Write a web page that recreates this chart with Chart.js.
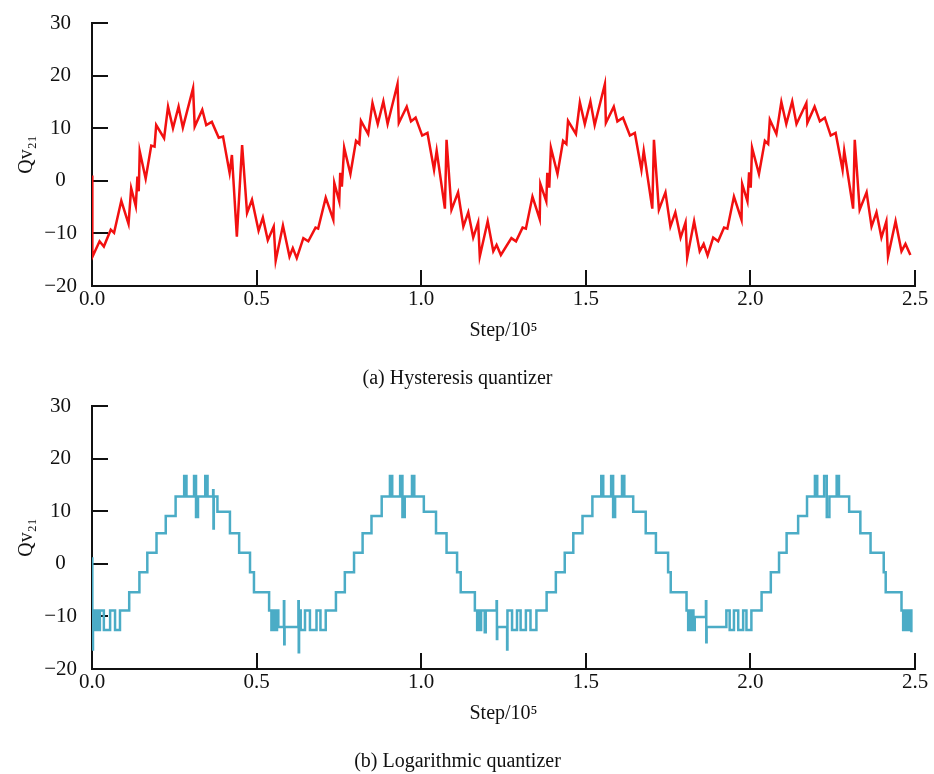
<!DOCTYPE html>
<html>
<head>
<meta charset="utf-8">
<script src="https://cdn.jsdelivr.net/npm/chart.js@4/dist/chart.umd.min.js"></script>
<style>
body{margin:0;background:#fff;}
.panel{position:absolute;left:0;width:934px;height:391px;}
</style>
</head>
<body>
<div class="panel" style="top:0"><canvas id="chartA"></canvas></div>
<div class="panel" style="top:383px"><canvas id="chartB"></canvas></div>
<script>
// (a) hysteresis quantizer, step in units of 1e5
var hystStep = [0,0.001,0.023,0.036,0.057,0.067,0.089,0.111,0.119,0.133,0.138,0.142,0.145,0.163,0.180,0.190,0.195,0.219,0.231,0.246,0.263,0.276,0.307,0.312,0.335,0.347,0.364,0.385,0.398,0.418,0.425,0.440,0.456,0.471,0.486,0.506,0.519,0.534,0.552,0.558,0.580,0.600,0.610,0.622,
  0.642,0.657,0.679,0.687,0.710,0.733,0.736,0.751,0.754,0.759,0.766,0.785,0.802,0.812,0.817,0.839,0.852,0.868,0.885,0.898,0.928,0.932,0.956,0.969,0.983,1.003,1.019,1.039,1.047,1.072,1.077,1.092,1.112,1.128,1.143,1.158,1.173,1.178,1.202,1.219,1.229,1.242,
  1.274,1.288,1.308,1.318,1.338,1.360,1.362,1.380,1.383,1.389,1.394,1.414,1.431,1.441,1.446,1.470,1.482,1.497,1.514,1.527,1.558,1.561,1.585,1.596,1.613,1.634,1.649,1.669,1.676,1.702,1.707,1.722,1.742,1.757,1.772,1.788,1.803,1.808,1.829,1.846,1.858,1.870,
  1.887,1.902,1.920,1.930,1.950,1.973,1.975,1.991,1.996,2.001,2.005,2.026,2.044,2.054,2.059,2.079,2.094,2.109,2.127,2.140,2.170,2.173,2.195,2.211,2.226,2.244,2.259,2.280,2.285,2.312,2.317,2.332,2.353,2.368,2.383,2.398,2.413,2.418,2.441,2.459,2.471,2.486];
var hystQ = [1.0,-14.5,-11.5,-12.5,-9.3,-9.9,-3.8,-8.2,-1.4,-4.8,0.8,-2.0,5.6,0.4,6.7,6.5,10.6,8.1,14.1,10.0,14.1,10.1,17.6,10.3,13.5,10.6,11.2,8.2,8.4,1.5,4.9,-10.6,6.8,-6.1,-3.6,-9.5,-7.0,-11.3,-8.7,-15.2,-8.5,-14.4,-12.8,-14.7,
  -10.9,-11.5,-8.9,-9.1,-3.2,-7.4,-0.4,-3.9,1.5,-1.1,6.3,1.3,7.6,7.0,11.4,8.9,14.8,10.8,15.1,10.8,18.4,11.0,14.1,11.3,12.0,8.6,9.1,2.1,5.7,-5.3,7.8,-5.5,-2.2,-8.7,-6.0,-10.8,-7.9,-14.4,-7.7,-13.4,-12.2,-14.1,
  -10.9,-11.5,-8.9,-9.1,-3.0,-7.3,-0.6,-3.9,1.5,-1.3,6.3,1.3,7.6,7.0,11.4,8.9,14.9,10.8,15.1,10.6,18.4,11.0,14.1,11.3,12.0,8.6,9.1,2.1,5.7,-5.3,7.8,-5.5,-2.2,-8.7,-6.0,-10.8,-7.9,-14.6,-7.7,-13.4,-12.0,-14.2,
  -10.8,-11.5,-8.9,-9.1,-3.0,-7.4,-0.6,-3.9,1.6,-1.3,6.3,1.3,7.6,7.0,11.6,8.9,15.0,10.8,15.1,10.8,14.8,11.0,14.1,11.3,12.0,8.6,9.1,2.1,5.7,-5.3,7.8,-5.5,-2.2,-8.7,-6.0,-10.8,-7.7,-14.4,-7.7,-13.4,-12.0,-14.1];

// (b) logarithmic quantizer: step where the output changes, and the new level
var logStep = [0,0.001,0.003,0.006,0.009,0.012,0.015,0.018,0.024,0.036,0.055,0.070,0.085,
  0.113,0.144,0.168,0.196,0.224,0.254,0.280,0.287,0.310,0.316,0.322,0.344,0.351,0.368,0.369,0.370,
  0.381,0.419,0.447,0.480,0.492,0.538,0.545,0.548,0.551,0.554,0.558,0.562,0.566,0.583,0.584,0.585,0.627,0.628,0.629,0.634,0.647,0.662,0.682,0.694,0.710,
  0.741,0.768,0.796,0.822,0.849,0.880,0.905,0.912,0.936,0.943,0.950,0.972,0.979,
  1.008,1.045,1.077,1.109,1.120,1.163,1.170,1.174,1.178,1.182,1.193,1.196,1.229,1.230,1.231,1.261,1.262,1.276,1.291,1.302,1.318,1.332,1.350,
  1.381,1.409,1.436,1.462,1.490,1.520,1.547,1.553,1.577,1.583,1.589,1.610,1.617,
  1.644,1.682,1.713,1.750,1.758,1.806,1.811,1.815,1.819,1.823,1.827,1.831,1.865,1.866,1.867,1.927,1.937,1.950,1.963,1.978,1.988,2.003,
  2.034,2.062,2.087,2.110,2.145,2.172,2.196,2.203,2.224,2.232,2.240,2.262,2.269,
  2.300,2.334,2.365,2.405,2.411,2.459,2.464,2.468,2.472,2.476,2.480,2.484,2.489];
var logQ = [1.0,-16.3,-8.9,-12.6,-8.9,-12.6,-8.9,-12.6,-8.9,-12.6,-8.9,-12.6,-8.9,
  -5.4,-1.6,2.1,5.8,9.1,12.8,16.7,12.8,16.7,8.9,12.8,16.7,12.8,14.0,6.7,12.8,
  9.9,5.8,2.1,-1.6,-5.4,-8.9,-12.6,-8.9,-12.6,-8.9,-12.6,-8.9,-12.0,-7.1,-15.3,-12.0,-7.1,-16.8,-8.9,-12.6,-8.9,-12.6,-8.9,-12.6,-8.9,
  -5.4,-1.6,2.1,5.8,9.1,12.8,16.7,12.8,16.7,8.9,12.8,16.7,12.8,
  9.9,5.8,2.1,-1.6,-5.4,-8.9,-12.6,-8.9,-12.6,-8.9,-13.0,-8.9,-7.1,-14.3,-12.0,-16.3,-8.9,-12.6,-8.9,-12.6,-8.9,-12.6,-8.9,
  -5.4,-1.6,2.1,5.8,9.1,12.8,16.7,12.8,16.7,8.9,12.8,16.7,12.8,
  9.9,5.8,2.1,-1.6,-5.4,-8.9,-12.6,-8.9,-12.6,-8.9,-12.6,-10.1,-7.1,-14.9,-12.0,-8.9,-12.6,-8.9,-12.6,-8.9,-12.6,-8.9,
  -5.4,-1.6,2.1,5.8,9.1,12.8,16.7,12.8,16.7,8.9,12.8,16.7,12.8,
  9.9,5.8,2.1,-1.6,-5.4,-8.9,-12.6,-8.9,-12.6,-8.9,-12.6,-8.9,-13.0];

var xLabel = 'Step/10\u2075';
var yLabel = 'Qv\u2082\u2081';

Chart.defaults.font.family = '"Liberation Serif", "Times New Roman", serif';
Chart.defaults.color = '#111';

function makeChart(id, xs, ys, color, stepped, caption) {
  var points = xs.map(function(x, i){ return {x: x, y: ys[i]}; });
  return new Chart(id, {
    type: 'line',
    data: { datasets: [{ data: points, borderColor: color, borderWidth: 2.5, pointRadius: 0,
      stepped: stepped, fill: false, tension: 0 }] },
    options: {
      responsive: true, maintainAspectRatio: false, animation: false,
      layout: { padding: { top: 23, right: 19, bottom: 0, left: 0 } },
      plugins: {
        legend: { display: false },
        tooltip: { enabled: false },
        title: { display: true, position: 'bottom', text: caption,
          font: { size: 20, weight: 'normal' }, padding: { top: 24, bottom: 0 } }
      },
      scales: {
        x: {
          type: 'linear', min: 0, max: 2.5,
          border: { display: true, color: '#111', width: 2 },
          grid: { drawOnChartArea: false, color: '#111', lineWidth: 2, tickLength: -16 },
          ticks: { stepSize: 0.5, padding: 17, maxRotation: 0, font: { size: 21 },
            callback: function(v){ return v.toFixed(1); } },
          title: { display: true, text: xLabel, font: { size: 20 }, padding: { top: 0, bottom: 0 } },
          afterFit: function(s){ s.height = 57; s.paddingLeft = 0; s.paddingRight = 0; }
        },
        y: {
          min: -20, max: 30,
          border: { display: true, color: '#111', width: 2 },
          grid: { drawOnChartArea: false, color: '#111', lineWidth: 2, tickLength: -16 },
          ticks: { stepSize: 10, padding: 31, crossAlign: 'center', font: { size: 21 },
            callback: function(v){ return v < 0 ? '\u2212' + Math.abs(v) : String(v); } },
          title: { display: true, text: yLabel, font: { size: 20 }, padding: { top: 15, bottom: 0 } },
          afterFit: function(s){ s.width = 92; s.paddingTop = 0; s.paddingBottom = 0; }
        }
      }
    }
  });
}

document.addEventListener('DOMContentLoaded', function(){
  makeChart('chartA', hystStep, hystQ, '#f21010', false, '(a) Hysteresis quantizer');
  makeChart('chartB', logStep, logQ, '#4bacc6', 'before', '(b) Logarithmic quantizer');
});
</script>
</body>
</html>
